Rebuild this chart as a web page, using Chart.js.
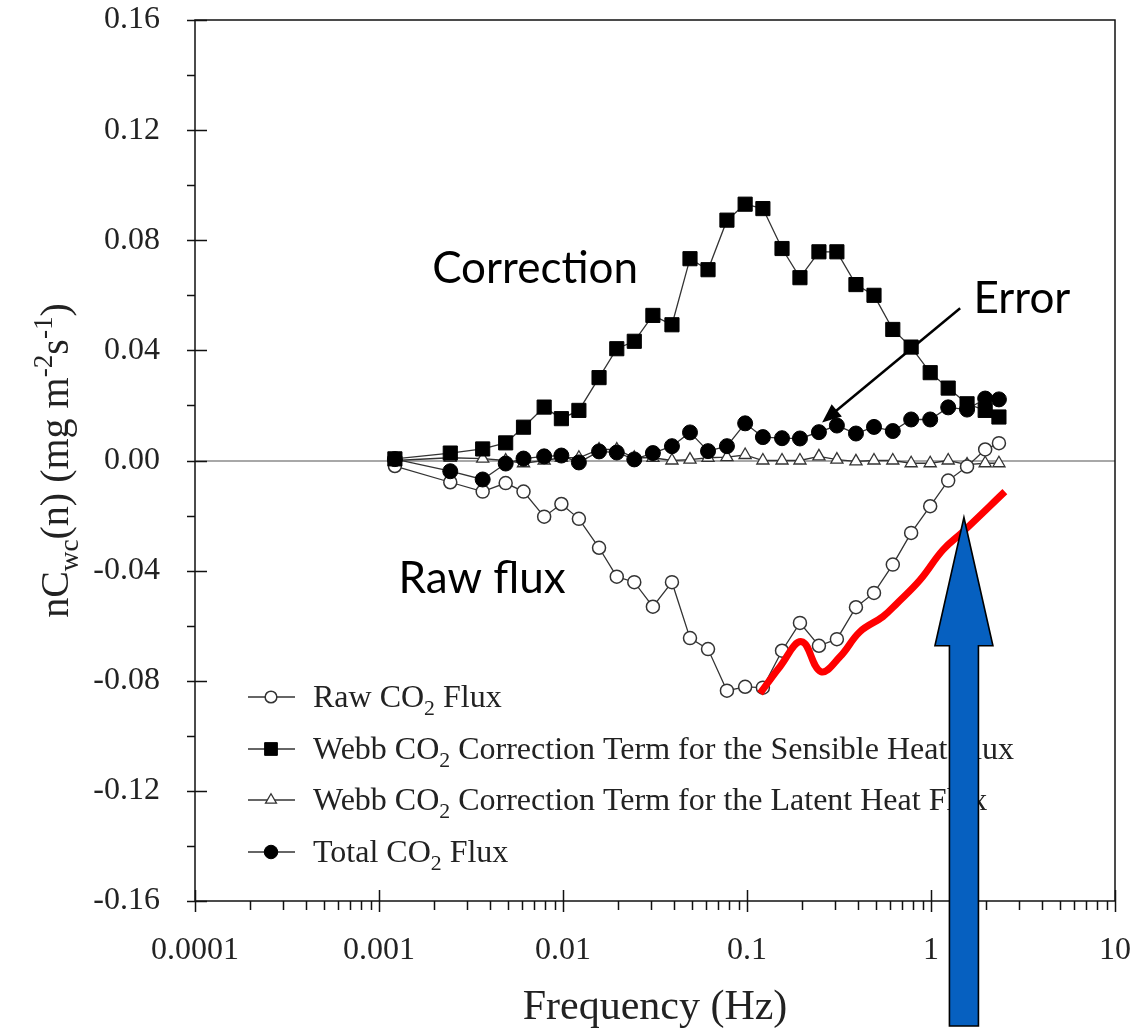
<!DOCTYPE html>
<html>
<head>
<meta charset="utf-8">
<script src="https://cdn.jsdelivr.net/npm/chart.js@4.4.1/dist/chart.umd.min.js"></script>
<style>
  html, body { margin: 0; padding: 0; background: #fff; }
  #wrap { width: 1141px; height: 1031px; }
</style>
</head>
<body>
<div id="wrap"><canvas id="cospec" width="1141" height="1031"></canvas></div>
<script>
// spectral points, frequency in Hz
const freq = [0.00122, 0.00244, 0.00366, 0.00488, 0.0061, 0.0079, 0.0098, 0.0122, 0.0157, 0.0196,
  0.0244, 0.0308, 0.0391, 0.049, 0.0614, 0.0778, 0.0977, 0.122, 0.155, 0.194,
  0.246, 0.308, 0.391, 0.49, 0.62, 0.78, 0.99, 1.24, 1.57, 1.97, 2.34];

// nCwc(n) for each series (mg m-2 s-1)
const rawFlux = [-0.002, -0.0079, -0.0113, -0.0082, -0.0113, -0.0204, -0.0158, -0.0212, -0.0317, -0.0422,
  -0.0442, -0.0531, -0.0442, -0.0645, -0.0685, -0.0836, -0.0822, -0.0825, -0.0691, -0.059,
  -0.0673, -0.0649, -0.0533, -0.0481, -0.0378, -0.0263, -0.0166, -0.0073, -0.0022, 0.004, 0.0063];
const sensibleCorr = [0.0006, 0.0027, 0.0042, 0.0064, 0.0121, 0.0194, 0.0152, 0.0182, 0.0301, 0.0406,
  0.0433, 0.0527, 0.0493, 0.0733, 0.0693, 0.0873, 0.0931, 0.0915, 0.077, 0.0664,
  0.0758, 0.0758, 0.0639, 0.060, 0.0476, 0.0412, 0.0319, 0.0263, 0.0206, 0.0182, 0.0158];
const latentCorr = [0.000, 0.001, 0.0007, 0.000, -0.001, 0.000, 0.001, 0.001, 0.004, 0.004,
  0.001, 0.001, 0.000, 0.0003, 0.001, 0.0012, 0.002, 0.000, 0.000, 0.000,
  0.0015, 0.0003, -0.0003, 0.000, 0.000, -0.001, -0.001, 0.000, -0.0015, -0.001, -0.001];
const totalFlux = [0.0005, -0.0039, -0.0069, -0.0011, 0.0007, 0.0015, 0.0018, -0.0007, 0.0033, 0.0029,
  0.0004, 0.0027, 0.0052, 0.0102, 0.0034, 0.0052, 0.0135, 0.0085, 0.0081, 0.008,
  0.0103, 0.0127, 0.0098, 0.0122, 0.0107, 0.0149, 0.0149, 0.0193, 0.0185, 0.0225, 0.0222];

// red hand drawn curve under the raw flux
const redFreq = [0.1178, 0.151, 0.198, 0.252, 0.320, 0.411, 0.548, 0.653, 0.871, 1.16, 1.49, 2.52];
const redVal = [-0.0846, -0.0749, -0.0658, -0.0767, -0.0713, -0.0622, -0.0567, -0.0519, -0.0434, -0.0325, -0.0259, -0.0113];

const seriesNames = ['Raw CO₂ Flux',
  'Webb CO₂ Correction Term for the Sensible Heat Flux',
  'Webb CO₂ Correction Term for the Latent Heat Flux',
  'Total CO₂ Flux'];
const xTickLabels = ['0.0001', '0.001', '0.01', '0.1', '1', '10'];
const yTickLabels = ['-0.16', '-0.12', '-0.08', '-0.04', '0.00', '0.04', '0.08', '0.12', '0.16'];

// annotations, in data units
const notes = [
  { text: 'Correction', x: 0.00705, y: 0.0698 },
  { text: 'Error', x: 3.12, y: 0.0589 },
  { text: 'Raw flux', x: 0.00363, y: -0.0429 }
];
const errorArrow = { x0: 1.44, y0: 0.0553, x1: 0.256, y1: 0.0138 };
const blueArrow = { x: 1.51, tip: -0.0207, headBase: -0.0673 };

const SERIF = '"Liberation Serif", "Times New Roman", serif';
const SANS = 'Lato, "Liberation Sans", sans-serif';

function pts(ys, xs) {
  return ys.map((v, i) => ({ x: (xs || freq)[i], y: v }));
}

// split "CO₂" so the 2 can be drawn as a subscript
function richParts(str) {
  const parts = [];
  const bits = str.split('₂');
  bits.forEach((b, i) => {
    if (b) parts.push([b, '']);
    if (i < bits.length - 1) parts.push(['2', 'sub']);
  });
  return parts;
}

function drawRich(ctx, parts, x, y, size) {
  let cx = x;
  parts.forEach(([t, mode]) => {
    const s = mode ? size * 0.68 : size;
    ctx.font = s + 'px ' + SERIF;
    const dy = mode === 'sub' ? size * 0.24 : (mode === 'sup' ? -size * 0.4 : 0);
    ctx.fillText(t, cx, y + dy);
    cx += ctx.measureText(t).width;
  });
  return cx - x;
}

function richWidth(ctx, parts, size) {
  let w = 0;
  parts.forEach(([t, mode]) => {
    ctx.font = (mode ? size * 0.68 : size) + 'px ' + SERIF;
    w += ctx.measureText(t).width;
  });
  return w;
}

function marker(ctx, style, x, y, r, fill, stroke, lw) {
  ctx.beginPath();
  if (style === 'rect') {
    const h = r * Math.SQRT1_2;
    ctx.rect(x - h, y - h, 2 * h, 2 * h);
  } else if (style === 'triangle') {
    ctx.moveTo(x, y - r);
    ctx.lineTo(x + r * 0.866, y + r / 2);
    ctx.lineTo(x - r * 0.866, y + r / 2);
    ctx.closePath();
  } else {
    ctx.arc(x, y, r, 0, Math.PI * 2);
  }
  ctx.fillStyle = fill;
  ctx.fill();
  ctx.lineWidth = lw;
  ctx.strokeStyle = stroke;
  ctx.stroke();
}

// box round the plot + crossing tick marks
const framePlugin = {
  id: 'frame',
  afterDatasetsDraw(chart) {
    const { ctx, chartArea: a, scales: { x, y } } = chart;
    ctx.save();
    ctx.strokeStyle = '#111';
    ctx.lineWidth = 1.5;
    ctx.strokeRect(a.left, a.top, a.right - a.left, a.bottom - a.top);
    ctx.beginPath();
    for (let k = -8; k <= 8; k++) {
      const py = Math.round(y.getPixelForValue(k * 0.02)) + 0.5;
      ctx.moveTo(a.left - 8, py);
      ctx.lineTo(k % 2 === 0 ? a.left + 12 : a.left, py);
    }
    for (let e = -4; e <= 1; e++) {
      const px = Math.round(x.getPixelForValue(Math.pow(10, e))) + 0.5;
      ctx.moveTo(px, a.bottom - 11);
      ctx.lineTo(px, a.bottom + 11);
      if (e < 1) {
        for (let m = 2; m <= 9; m++) {
          const mx = Math.round(x.getPixelForValue(m * Math.pow(10, e))) + 0.5;
          ctx.moveTo(mx, a.bottom);
          ctx.lineTo(mx, a.bottom + 9);
        }
      }
    }
    ctx.stroke();
    ctx.restore();
  }
};

// legend inside the plot, notes, arrows and the y title
const overlayPlugin = {
  id: 'overlay',
  afterDraw(chart) {
    const { ctx, chartArea: a, scales: { x, y } } = chart;
    ctx.save();

    // legend
    const rows = [-204, -152, -101, -49];
    chart.data.datasets.forEach((ds, i) => {
      if (i >= seriesNames.length) return;
      const ly = a.bottom + rows[i];
      ctx.beginPath();
      ctx.moveTo(a.left + 53, ly);
      ctx.lineTo(a.left + 100, ly);
      ctx.lineWidth = 1.3;
      ctx.strokeStyle = '#333';
      ctx.stroke();
      marker(ctx, ds.pointStyle, a.left + 76, ly, ds.pointRadius * 0.9,
        ds.pointBackgroundColor, ds.pointBorderColor, ds.pointBorderWidth);
      ctx.fillStyle = '#222';
      ctx.textBaseline = 'alphabetic';
      ctx.textAlign = 'left';
      drawRich(ctx, richParts(ds.label), a.left + 118, ly + 10, 32);
    });

    // text notes
    ctx.fillStyle = '#000';
    ctx.font = '44px ' + SANS;
    ctx.textAlign = 'center';
    ctx.textBaseline = 'middle';
    notes.forEach(n => ctx.fillText(n.text, x.getPixelForValue(n.x), y.getPixelForValue(n.y)));

    // arrow pointing at the error
    const ax0 = x.getPixelForValue(errorArrow.x0), ay0 = y.getPixelForValue(errorArrow.y0);
    const ax1 = x.getPixelForValue(errorArrow.x1), ay1 = y.getPixelForValue(errorArrow.y1);
    const ang = Math.atan2(ay1 - ay0, ax1 - ax0);
    ctx.beginPath();
    ctx.moveTo(ax0, ay0);
    ctx.lineTo(ax1 - Math.cos(ang) * 14, ay1 - Math.sin(ang) * 14);
    ctx.lineWidth = 2.5;
    ctx.strokeStyle = '#000';
    ctx.stroke();
    ctx.beginPath();
    ctx.moveTo(ax1, ay1);
    ctx.lineTo(ax1 - Math.cos(ang) * 19 + Math.sin(ang) * 8, ay1 - Math.sin(ang) * 19 - Math.cos(ang) * 8);
    ctx.lineTo(ax1 - Math.cos(ang) * 19 - Math.sin(ang) * 8, ay1 - Math.sin(ang) * 19 + Math.cos(ang) * 8);
    ctx.closePath();
    ctx.fillStyle = '#000';
    ctx.fill();

    // big blue arrow
    const bx = x.getPixelForValue(blueArrow.x);
    const tipY = y.getPixelForValue(blueArrow.tip);
    const baseY = y.getPixelForValue(blueArrow.headBase);
    const bottom = chart.height - 5;
    ctx.beginPath();
    ctx.moveTo(bx, tipY);
    ctx.lineTo(bx + 29, baseY);
    ctx.lineTo(bx + 14.5, baseY);
    ctx.lineTo(bx + 14.5, bottom);
    ctx.lineTo(bx - 14.5, bottom);
    ctx.lineTo(bx - 14.5, baseY);
    ctx.lineTo(bx - 29, baseY);
    ctx.closePath();
    ctx.fillStyle = '#0660c0';
    ctx.fill();
    ctx.lineWidth = 1.6;
    ctx.strokeStyle = '#000';
    ctx.stroke();

    // y axis title with sub/superscripts
    const yParts = [['nC', ''], ['wc', 'sub'], ['(n) (mg m', ''], ['-2', 'sup'], ['s', ''], ['-1', 'sup'], [')', '']];
    const tw = richWidth(ctx, yParts, 40);
    ctx.translate(68, (a.top + a.bottom) / 2);
    ctx.rotate(-Math.PI / 2);
    ctx.fillStyle = '#222';
    ctx.textAlign = 'left';
    ctx.textBaseline = 'alphabetic';
    drawRich(ctx, yParts, -tw / 2, 0, 40);
    ctx.restore();
  }
};

const lineStyle = { borderColor: '#333', borderWidth: 1.3, tension: 0, showLine: true };

new Chart(document.getElementById('cospec'), {
  type: 'line',
  data: {
    datasets: [
      Object.assign({}, lineStyle, {
        label: seriesNames[0], data: pts(rawFlux), order: 3,
        pointStyle: 'circle', pointRadius: 6.5, pointBackgroundColor: '#fff',
        pointBorderColor: '#333', pointBorderWidth: 1.5
      }),
      Object.assign({}, lineStyle, {
        label: seriesNames[1], data: pts(sensibleCorr), order: 1,
        pointStyle: 'rect', pointRadius: 10, pointBackgroundColor: '#000',
        pointBorderColor: '#000', pointBorderWidth: 1
      }),
      Object.assign({}, lineStyle, {
        label: seriesNames[2], data: pts(latentCorr), order: 4,
        pointStyle: 'triangle', pointRadius: 7, pointBackgroundColor: '#fff',
        pointBorderColor: '#333', pointBorderWidth: 1.3
      }),
      Object.assign({}, lineStyle, {
        label: seriesNames[3], data: pts(totalFlux), order: 2,
        pointStyle: 'circle', pointRadius: 7.5, pointBackgroundColor: '#000',
        pointBorderColor: '#000', pointBorderWidth: 1
      }),
      {
        label: 'red line', data: pts(redVal, redFreq), order: 0,
        borderColor: '#ff0000', borderWidth: 7, pointRadius: 0, tension: 0.4,
        borderCapStyle: 'butt'
      }
    ]
  },
  options: {
    responsive: false,
    animation: false,
    events: [],
    layout: { padding: { top: 20, right: 26, left: 0, bottom: 0 } },
    plugins: {
      legend: { display: false },
      tooltip: { enabled: false }
    },
    scales: {
      x: {
        type: 'logarithmic',
        min: 0.0001,
        max: 10,
        afterFit(s) {
          s.height = 130;
          s.paddingLeft = 0;
          s.paddingRight = 0;
        },
        grid: { display: false, drawTicks: false },
        border: { display: false },
        ticks: {
          autoSkip: false,
          maxRotation: 0,
          padding: 30,
          color: '#222',
          font: { family: SERIF, size: 32 },
          callback(v) {
            const l = Math.log10(v);
            return Math.abs(l - Math.round(l)) < 1e-6 ? xTickLabels[Math.round(l) + 4] : '';
          }
        },
        title: {
          display: true,
          text: 'Frequency (Hz)',
          color: '#222',
          font: { family: SERIF, size: 42, lineHeight: 1.1 },
          padding: { top: 0, bottom: 0 }
        }
      },
      y: {
        min: -0.16,
        max: 0.16,
        afterFit(s) {
          s.width = 195;
          s.paddingTop = 0;
          s.paddingBottom = 0;
        },
        grid: {
          drawTicks: false,
          lineWidth: 2,
          color: c => (c.tick && Math.abs(c.tick.value) < 1e-9 ? '#a8a8a8' : 'rgba(0,0,0,0)')
        },
        border: { display: false },
        ticks: {
          stepSize: 0.04,
          padding: 35,
          color: '#222',
          font: { family: SERIF, size: 32 },
          callback: v => yTickLabels[Math.round(v / 0.04) + 4]
        }
      }
    }
  },
  plugins: [framePlugin, overlayPlugin]
});
</script>
</body>
</html>
